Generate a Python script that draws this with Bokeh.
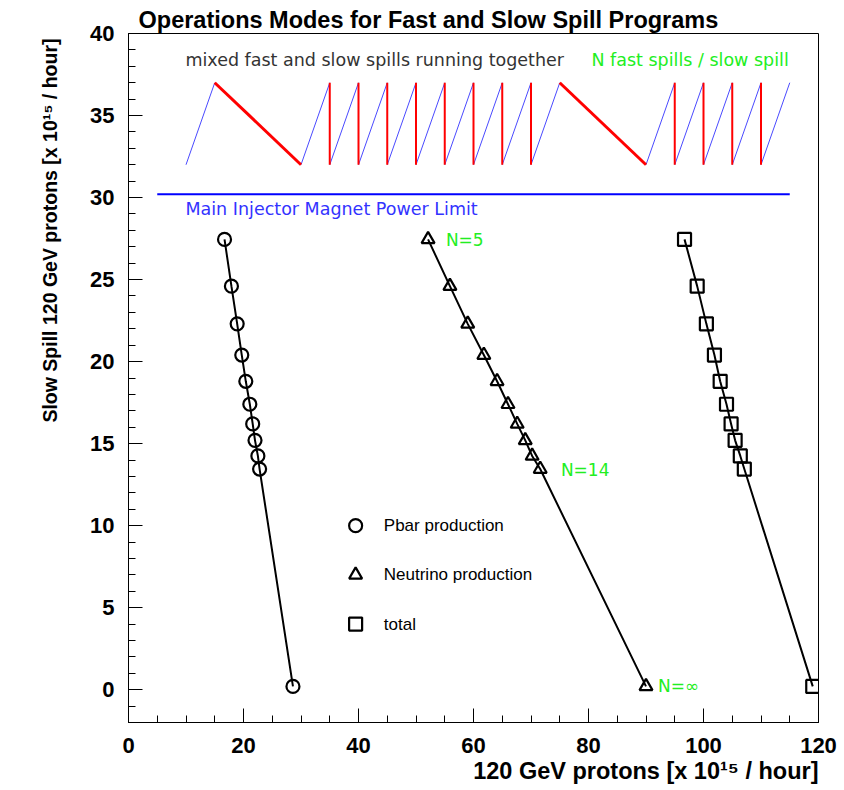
from bokeh.plotting import figure
from bokeh.models import Range1d, SingleIntervalTicker, Title
from bokeh.embed import file_html
from bokeh.resources import INLINE
from bokeh.core.properties import value

# ---- data ----
slow_spill = [27.45, 24.6, 22.3, 20.4, 18.8, 17.4, 16.2, 15.2, 14.25, 13.45, 0.2]
pbar = [16.7, 17.9, 18.9, 19.7, 20.4, 21.1, 21.6, 22.0, 22.5, 22.8, 28.6]
neutrino = [52.1, 55.9, 59.0, 61.8, 64.1, 66.0, 67.6, 69.0, 70.2, 71.6, 90.0]
total = [96.7, 98.9, 100.5, 101.9, 102.9, 104.0, 104.8, 105.5, 106.4, 107.1, 119.0]

# sawtooth schematic
saw_low = 32
saw_high = 37
ramp_start = [10, 30, 35, 40, 45, 50, 55, 60, 65, 70, 90, 95, 100, 105, 110]
ramp_end = [15, 35, 40, 45, 50, 55, 60, 65, 70, 75, 95, 100, 105, 110, 115]
slow_start = [15, 75]
slow_end = [30, 90]
fast_x = [35, 40, 45, 50, 55, 60, 65, 70, 95, 100, 105, 110]

power_limit = 30.2
power_x = [5, 115]

legend_labels = ["Pbar production", "Neutrino production", "total"]
legend_markers = ["circle", "triangle", "square"]
legend_y = [10.0, 7.0, 4.0]
legend_x = 39.5
legend_text_x = 44.4

n_labels = ["N=5", "N=14", "N=\u221e"]
n_label_x = [55.2, 75.2, 92.1]
n_label_y = [27.4, 13.4, 0.2]

FONT = "Liberation Sans"
THIN = "DejaVu Sans"
GREEN = "#22ee22"

p = figure(width=844, height=790, output_backend="svg", toolbar_location=None,
           x_range=Range1d(0, 120), y_range=Range1d(-2, 40),
           min_border_left=128, min_border_right=26, min_border_top=33,
           min_border_bottom=68)
p.background_fill_color = "white"
p.border_fill_color = "white"
p.outline_line_color = "black"
p.outline_line_width = 1
p.grid.visible = False

p.title.text = "Operations Modes for Fast and Slow Spill Programs"
p.title.text_font = FONT
p.title.text_font_size = "23.5px"
p.title.text_font_style = "bold"
p.title.text_color = "black"
p.title.offset = 10
p.title.standoff = 2

p.xaxis.ticker = SingleIntervalTicker(interval=20, num_minor_ticks=4)
p.yaxis.ticker = SingleIntervalTicker(interval=5, num_minor_ticks=5)
for ax in (p.xaxis, p.yaxis):
    ax.major_tick_in = 14
    ax.major_tick_out = 0
    ax.minor_tick_in = 7
    ax.minor_tick_out = 0
    ax.major_label_text_font = FONT
    ax.major_label_text_font_size = "22px"
    ax.major_label_text_font_style = "bold"
    ax.major_label_text_color = "black"
    ax.axis_line_color = "black"
    ax.major_tick_line_color = "black"
    ax.minor_tick_line_color = "black"
p.xaxis.major_label_standoff = 15
p.yaxis.major_label_standoff = 14

p.add_layout(Title(text="120 GeV protons [x 10\u00b9\u2075 / hour]", align="right",
                   text_font=FONT, text_font_size="23.5px", text_font_style="bold",
                   text_color="black", standoff=0), "below")
p.add_layout(Title(text="Slow Spill 120 GeV protons [x 10\u00b9\u2075 / hour]", align="right",
                   text_font=FONT, text_font_size="19.5px", text_font_style="bold",
                   text_color="black", standoff=53, offset=5), "left")

# sawtooth
p.segment(x0=ramp_start, y0=[saw_low] * len(ramp_start), x1=ramp_end,
          y1=[saw_high] * len(ramp_end), line_color="#4a4aff", line_width=1)
p.segment(x0=slow_start, y0=[saw_high] * 2, x1=slow_end, y1=[saw_low] * 2,
          line_color="#ff0000", line_width=3)
p.segment(x0=fast_x, y0=[saw_high] * len(fast_x), x1=fast_x, y1=[saw_low] * len(fast_x),
          line_color="#ff0000", line_width=2)

# power limit
p.line(power_x, [power_limit, power_limit], line_color="#0000ff", line_width=2)

p.text(x=[9.9], y=[38.4], text=["mixed fast and slow spills running together"],
       text_font=value(THIN), text_font_size="17.5px", text_color="#333333",
       text_baseline="middle")
p.text(x=[80.5], y=[38.4], text=["N fast spills / slow spill"],
       text_font=value(THIN), text_font_size="17.5px", text_color=GREEN,
       text_baseline="middle")
p.text(x=[9.9], y=[29.3], text=["Main Injector Magnet Power Limit"],
       text_font=value(THIN), text_font_size="17.5px", text_color="#3333ff",
       text_baseline="middle")

# series
for xs, marker in ((pbar, "circle"), (neutrino, "triangle"), (total, "square")):
    p.line(xs, slow_spill, line_color="black", line_width=2)
    p.scatter(xs, slow_spill, marker=marker, size=13, fill_color=None,
              line_color="black", line_width=2.2)

p.text(x=n_label_x, y=n_label_y, text=n_labels, text_font=value(THIN),
       text_font_size="17px", text_color=GREEN, text_baseline="middle")

# legend
for ly, lm in zip(legend_y, legend_markers):
    p.scatter([legend_x], [ly], marker=lm, size=13, fill_color=None,
              line_color="black", line_width=2.2)
p.text(x=[legend_text_x] * 3, y=legend_y, text=legend_labels,
       text_font=value(FONT), text_font_size="17px", text_color="black",
       text_baseline="middle")

open("out.html", "w").write(file_html(p, INLINE))
